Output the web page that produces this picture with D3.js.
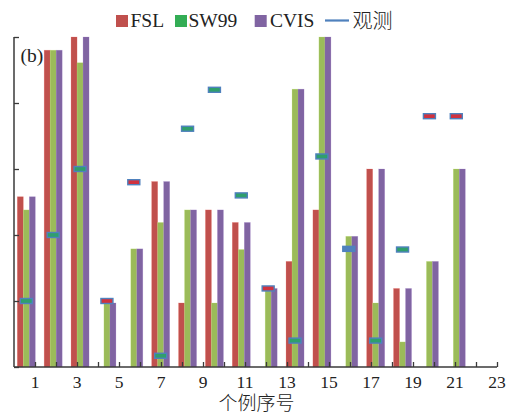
<!DOCTYPE html>
<html>
<head>
<meta charset="utf-8">
<script src="https://cdn.jsdelivr.net/npm/d3@7"></script>
<style>
  html, body { margin: 0; padding: 0; background: #fff; }
  svg { display: block; }
  text { font-family: "Liberation Serif", "DejaVu Serif", serif; fill: #222; }
  .cjk { font-family: "Liberation Serif", "Noto Sans CJK SC", sans-serif; font-weight: 300; }
</style>
</head>
<body>
<svg id="chart" width="509" height="414"></svg>
<script>
// Cases and per-scheme values (units of one y-axis division)
const cases = d3.range(1, 18);
const fsl   = [2.58, 4.80, 5.00, 0,    0,    2.81, 0.97, 2.38, 2.19, 0,    1.60, 2.38, 0,    3.00, 1.19, 0,    0];
const sw99  = [2.38, 4.80, 4.61, 0.97, 1.79, 2.19, 2.38, 0.97, 1.78, 1.19, 4.21, 5.00, 1.98, 0.97, 0.38, 1.60, 3.00];
const cvis  = [2.58, 4.80, 5.00, 0.97, 1.79, 2.81, 2.38, 2.38, 2.19, 1.19, 4.21, 5.00, 1.98, 3.00, 1.19, 1.60, 3.00];
const observed = [1.00, 2.00, 3.00, 1.00, 2.80, 0.17, 3.61, 4.20, 2.60, 1.19, 0.40, 3.19, 1.79, 0.40, 1.78, 3.80, 3.80];
// marker fill class of each observation: g = green, r = red, b = plain blue
const obsFlag = ["g","g","g","r","r","g","g","g","g","r","g","g","b","g","g","r","r"];
const xTickValues = d3.range(0, 24);
const xTickLabels = [1, 3, 5, 7, 9, 11, 13, 15, 17, 19, 21, 23];
const yTickValues = [0, 1, 2, 3, 4, 5];

const seriesNames = ["FSL", "SW99", "CVIS"];
const seriesData = [fsl, sw99, cvis];
const barColors = ["#c0504d", "#9bbb59", "#8064a2"];
const legendColors = ["#c0504d", "#33ad55", "#8064a2"];
const obsStroke = "#4f81bd";
const obsFill = { g: "#2f9f6c", r: "#d0323f", b: "#4f81bd" };

const svg = d3.select("#chart");
const x0 = 14, yBottom = 367, yTop = 37;

// axis scale (labels 0..23) and case placement
const xAxisScale = d3.scaleLinear().domain([0, 23]).range([x0, 497]);
const xCase = d3.scaleBand().domain(cases).range([x0, 468.6])
  .paddingInner(0.33).paddingOuter(0.123);
const xSeries = d3.scaleBand().domain(seriesNames).range([0, xCase.bandwidth()]);
const y = d3.scaleLinear().domain([0, 5]).range([yBottom, yTop]);

// bars
const groups = svg.append("g").selectAll("g").data(cases).join("g")
  .attr("transform", d => `translate(${xCase(d)},0)`);
groups.selectAll("rect")
  .data((c, i) => seriesNames.map((s, k) => ({ s, k, v: seriesData[k][i] })).filter(d => d.v > 0))
  .join("rect")
  .attr("x", d => xSeries(d.s))
  .attr("width", xSeries.bandwidth())
  .attr("y", d => y(d.v))
  .attr("height", d => y(0) - y(d.v))
  .attr("fill", d => barColors[d.k])
  .attr("stroke", d => d3.color(barColors[d.k]).brighter(0.6))
  .attr("stroke-opacity", 0.35)
  .attr("stroke-width", 0.6);

// observation markers
svg.append("g").selectAll("rect").data(cases).join("rect")
  .attr("x", (d, i) => xCase(d) + xCase.bandwidth() / 2 - 6)
  .attr("y", (d, i) => y(observed[i]) - 2.5)
  .attr("width", 12)
  .attr("height", 5)
  .attr("fill", (d, i) => obsFill[obsFlag[i]])
  .attr("stroke", obsStroke)
  .attr("stroke-width", 1.4);

// axes
const axisColor = "#3a3a3a";
const yAxis = svg.append("g").attr("transform", `translate(${x0},0)`)
  .call(d3.axisRight(y).tickValues(yTickValues).tickSize(5).tickFormat(""));
const xAxis = svg.append("g").attr("transform", `translate(0,${yBottom})`)
  .call(d3.axisTop(xAxisScale).tickValues(xTickValues.slice(1)).tickSize(5).tickFormat(""));
[yAxis, xAxis].forEach(a => {
  a.select(".domain").remove();
  a.selectAll("line").attr("stroke", axisColor).attr("stroke-width", 1.3);
});
svg.append("line").attr("x1", x0).attr("x2", x0).attr("y1", yTop).attr("y2", yBottom)
  .attr("stroke", axisColor).attr("stroke-width", 1.5);
svg.append("line").attr("x1", x0).attr("x2", xAxisScale(23)).attr("y1", yBottom).attr("y2", yBottom)
  .attr("stroke", axisColor).attr("stroke-width", 1.5);

// x tick labels
svg.append("g").selectAll("text").data(xTickLabels).join("text")
  .attr("x", d => xAxisScale(d))
  .attr("y", 387.5)
  .attr("text-anchor", "middle")
  .attr("font-size", 17.5)
  .text(d => d);

// axis title
svg.append("text").attr("class", "cjk")
  .attr("x", 256.5).attr("y", 409.8)
  .attr("text-anchor", "middle")
  .attr("font-size", 19)
  .text("个例序号");

// panel label
svg.append("text").attr("x", 20.5).attr("y", 62).attr("font-size", 19.5).text("(b)");

// legend
const legend = svg.append("g");
const legendItems = [
  { name: "FSL", sx: 116, tx: 130.5 },
  { name: "SW99", sx: 175, tx: 188.5 },
  { name: "CVIS", sx: 254.7, tx: 270 }
];
legendItems.forEach((d, k) => {
  legend.append("rect").attr("x", d.sx).attr("y", 15).attr("width", 12).attr("height", 12)
    .attr("fill", legendColors[k]);
  legend.append("text").attr("x", d.tx).attr("y", 26.7).attr("font-size", 19.5).text(d.name);
});
legend.append("line").attr("x1", 325).attr("x2", 349).attr("y1", 20.5).attr("y2", 20.5)
  .attr("stroke", obsStroke).attr("stroke-width", 2.2);
legend.append("text").attr("class", "cjk").attr("x", 352.5).attr("y", 27.5)
  .attr("font-size", 20).text("观测");
</script>
</body>
</html>
